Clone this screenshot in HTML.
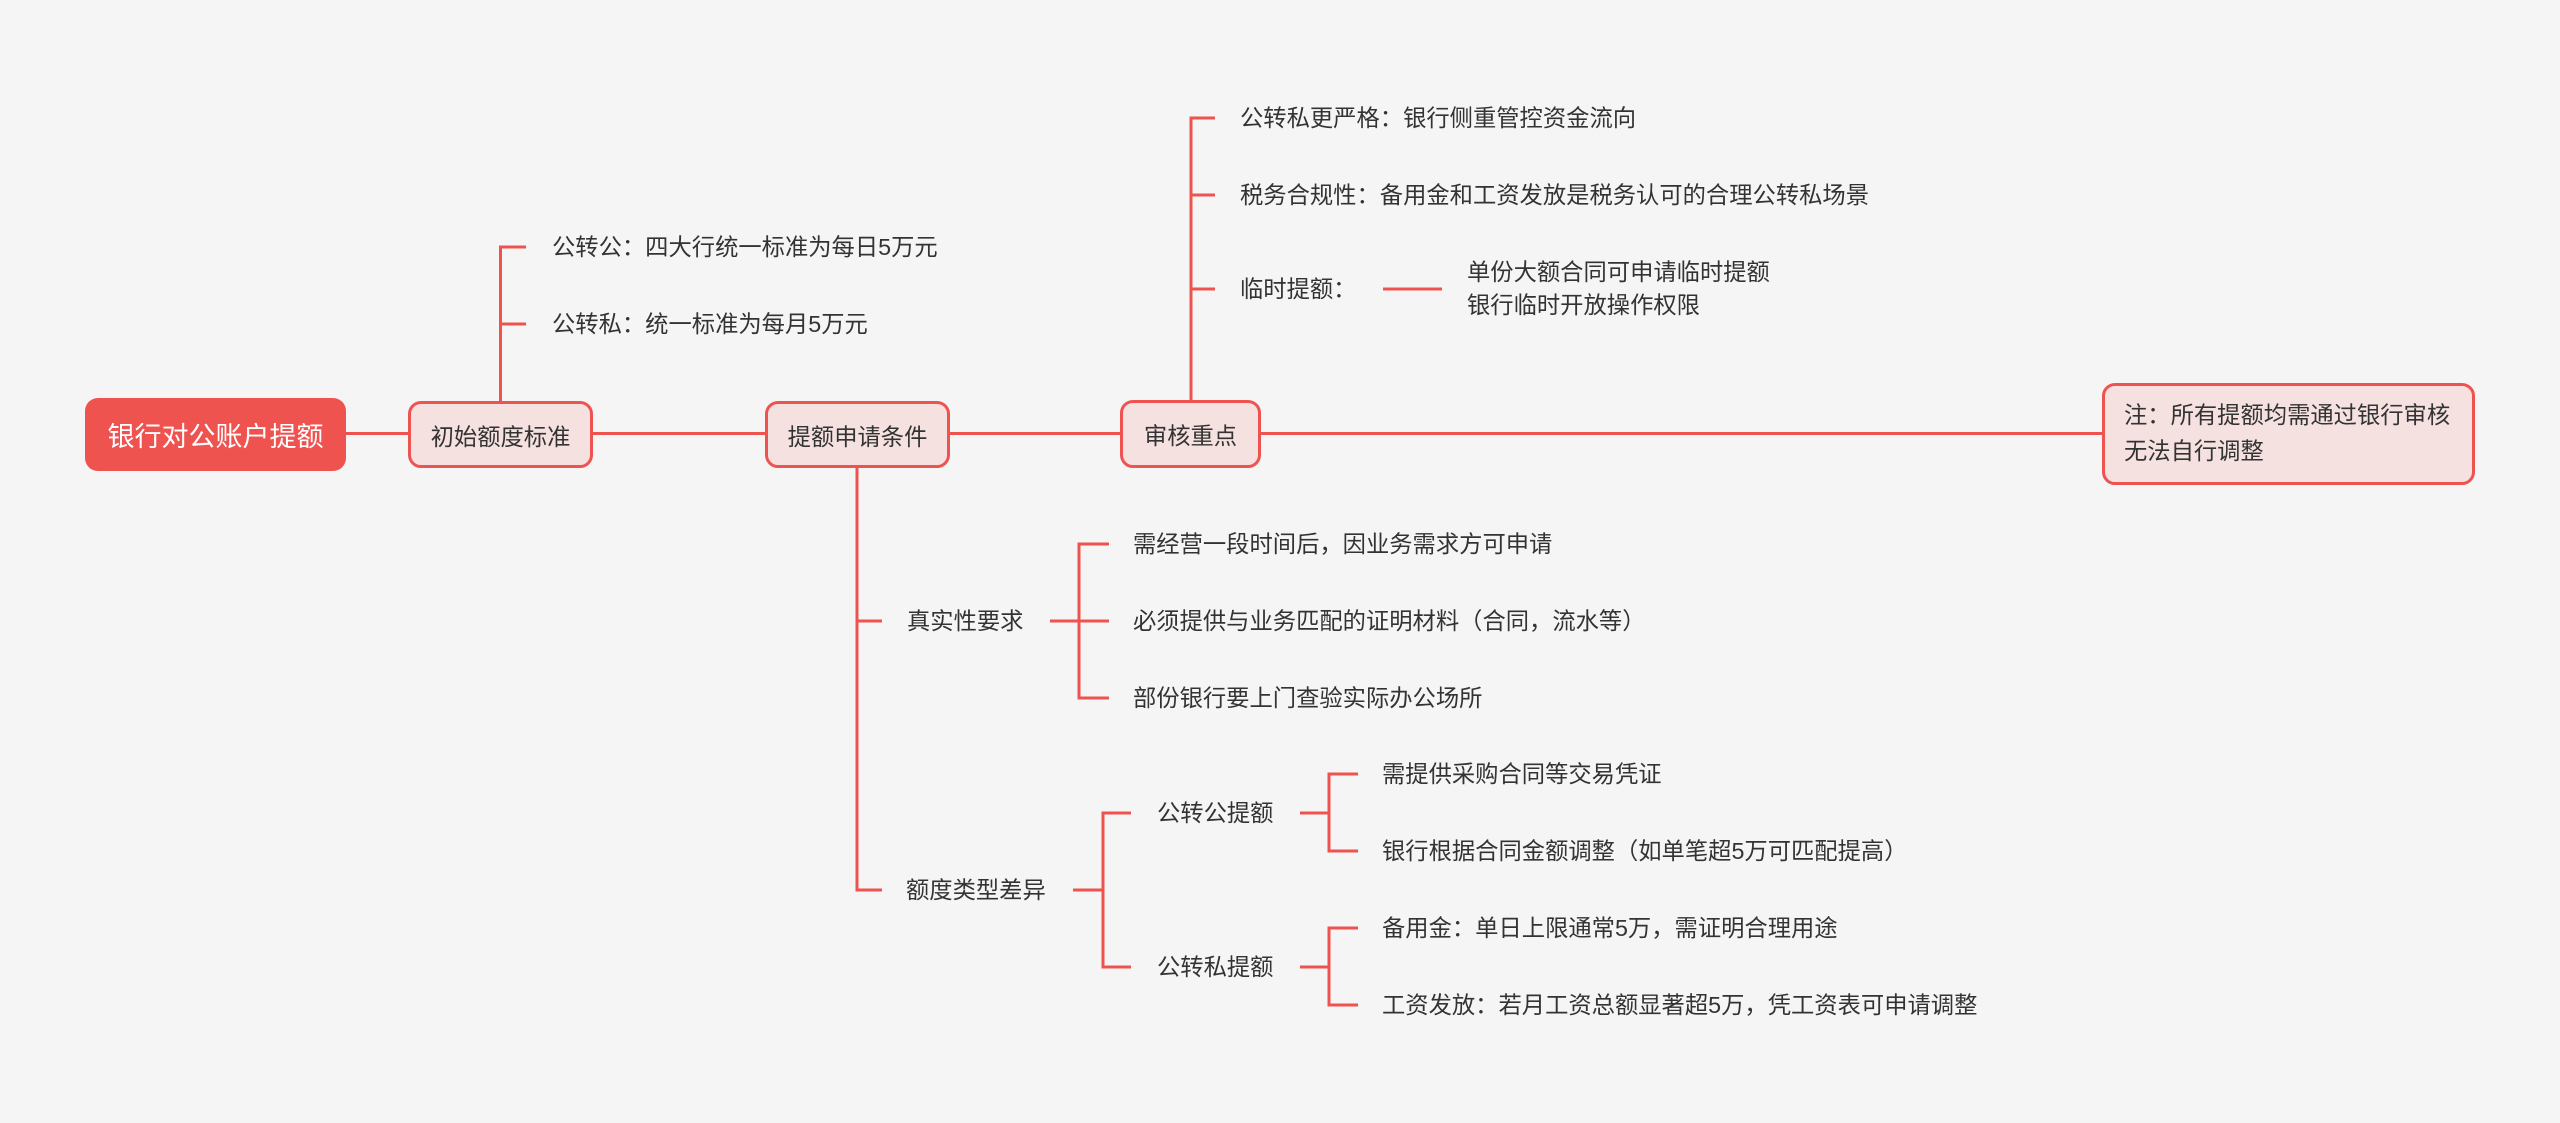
<!DOCTYPE html>
<html>
<head>
<meta charset="utf-8">
<style>
html,body{margin:0;padding:0;}
body{width:2560px;height:1123px;background:#f5f5f5;position:relative;overflow:hidden;font-family:"Liberation Sans","Noto Sans CJK SC",sans-serif;color:#333;}
svg{position:absolute;left:0;top:0;}
.t{position:absolute;height:40px;line-height:40px;font-size:23.3px;white-space:nowrap;}
.node{position:absolute;box-sizing:border-box;background:#f5e1e0;border:3px solid #ef5350;border-radius:13px;font-size:23.3px;text-align:center;display:flex;align-items:center;justify-content:center;white-space:nowrap;}
.root{position:absolute;box-sizing:border-box;background:#ef5350;border-radius:13px;color:#fff;font-size:27px;display:flex;align-items:center;justify-content:center;white-space:nowrap;}
</style>
</head>
<body>
<svg width="2560" height="1123" viewBox="0 0 2560 1123">
<g fill="none" stroke="#ef5350" stroke-width="3">
<path d="M345 433.5 H408"/>
<path d="M593 433.5 H765"/>
<path d="M950 433.5 H1120"/>
<path d="M1261 433.5 H2102"/>
<path d="M500.5 401 V247 H526"/>
<path d="M500.5 324 H526"/>
<path d="M1191 400 V118 H1215"/>
<path d="M1191 195 H1215"/>
<path d="M1191 289 H1215"/>
<path d="M1383 289 H1442"/>
<path d="M857 468 V890 H882"/>
<path d="M857 621 H882"/>
<path d="M1050 621 H1079"/>
<path d="M1109 544 H1079 V698 H1109"/>
<path d="M1079 621 H1109"/>
<path d="M1073 890 H1103"/>
<path d="M1131 813 H1103 V967 H1131"/>
<path d="M1300 813 H1329"/>
<path d="M1358 774 H1329 V851 H1358"/>
<path d="M1300 967 H1329"/>
<path d="M1358 928 H1329 V1005 H1358"/>
</g>
</svg>

<div class="root" style="left:85px;top:398px;width:261px;height:73px;">银行对公账户提额</div>
<div class="node" style="left:408px;top:401px;width:185px;height:67px;">初始额度标准</div>
<div class="node" style="left:765px;top:401px;width:185px;height:67px;">提额申请条件</div>
<div class="node" style="left:1120px;top:400px;width:141px;height:68px;">审核重点</div>
<div class="node" style="left:2102px;top:383px;width:373px;height:102px;display:block;text-align:left;"></div>
<div class="t" style="left:2124px;top:395px;">注：所有提额均需通过银行审核</div>
<div class="t" style="left:2124px;top:431px;">无法自行调整</div>

<div class="t" style="left:552px;top:227px;">公转公：四大行统一标准为每日5万元</div>
<div class="t" style="left:552px;top:304px;">公转私：统一标准为每月5万元</div>

<div class="t" style="left:1240px;top:98px;">公转私更严格：银行侧重管控资金流向</div>
<div class="t" style="left:1240px;top:175px;">税务合规性：备用金和工资发放是税务认可的合理公转私场景</div>
<div class="t" style="left:1240px;top:269px;">临时提额：</div>
<div class="t" style="left:1467px;top:252px;">单份大额合同可申请临时提额</div>
<div class="t" style="left:1467px;top:285px;">银行临时开放操作权限</div>

<div class="t" style="left:907px;top:601px;">真实性要求</div>
<div class="t" style="left:1133px;top:524px;">需经营一段时间后，因业务需求方可申请</div>
<div class="t" style="left:1133px;top:601px;">必须提供与业务匹配的证明材料（合同，流水等）</div>
<div class="t" style="left:1133px;top:678px;">部份银行要上门查验实际办公场所</div>

<div class="t" style="left:906px;top:870px;">额度类型差异</div>
<div class="t" style="left:1157px;top:793px;">公转公提额</div>
<div class="t" style="left:1157px;top:947px;">公转私提额</div>
<div class="t" style="left:1382px;top:754px;">需提供采购合同等交易凭证</div>
<div class="t" style="left:1382px;top:831px;">银行根据合同金额调整（如单笔超5万可匹配提高）</div>
<div class="t" style="left:1382px;top:908px;">备用金：单日上限通常5万，需证明合理用途</div>
<div class="t" style="left:1382px;top:985px;">工资发放：若月工资总额显著超5万，凭工资表可申请调整</div>
</body>
</html>
